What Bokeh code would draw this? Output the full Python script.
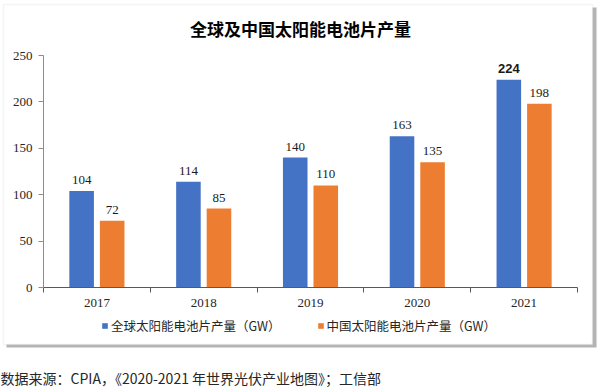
from bokeh.plotting import figure
from bokeh.models import (ColumnDataSource, FixedTicker, Legend, LegendItem,
                          Label, BoxAnnotation, Range1d)
from bokeh.transform import dodge
from bokeh.core.properties import value
from bokeh.embed import file_html
from bokeh.resources import INLINE

# ---- data ----
years = ["2017", "2018", "2019", "2020", "2021"]
global_gw = [104, 114, 140, 163, 224]
china_gw = [72, 85, 110, 135, 198]
y_ticks = [0, 50, 100, 150, 200, 250]
y_max = 250

# label styles (separate from data)
global_label_fonts = ["Liberation Serif"] * 4 + ["Liberation Sans"]
global_label_styles = ["normal"] * 4 + ["bold"]

title_text = "全球及中国太阳能电池片产量"
series_names = ["全球太阳能电池片产量（GW）", "中国太阳能电池片产量（GW）"]
source_text = "数据来源：CPIA，《2020-2021 年世界光伏产业地图》；工信部"

BLUE = "#4472C4"
ORANGE = "#ED7D31"

# ---- page geometry (pixels) ----
W, H = 600, 387
PL, PR, PT, PB = 43, 577, 55, 287      # plot area edges on the page
n = len(years)
ux = (PR - PL) / n                      # px per category
uy = (PB - PT) / y_max                  # px per GW

xpos = [i + 0.5 for i in range(n)]
src = ColumnDataSource(dict(
    x=xpos, g=global_gw, c=china_gw,
    gl=[str(v) for v in global_gw], cl=[str(v) for v in china_gw],
    gfont=global_label_fonts, gstyle=global_label_styles,
))

p = figure(width=W, height=H,
           x_range=Range1d(-PL / ux, n + (W - PR) / ux),
           y_range=Range1d(-(H - PB) / uy, y_max + PT / uy),
           output_backend="svg", toolbar_location=None,
           min_border=0, min_border_left=0, min_border_right=0,
           min_border_top=0, min_border_bottom=0)
p.background_fill_color = "white"
p.border_fill_color = "white"
p.outline_line_color = None
p.xgrid.visible = False
p.ygrid.visible = False

# outer box with drop shadow (screen px from bottom-left)
p.add_layout(BoxAnnotation(left=6, right=596, top=H - 7, bottom=H - 347,
                           left_units="screen", right_units="screen",
                           top_units="screen", bottom_units="screen",
                           fill_color="#b3b3b3", fill_alpha=1.0,
                           line_color=None, level="underlay"))
p.add_layout(BoxAnnotation(left=3, right=592, top=H - 4, bottom=H - 344,
                           left_units="screen", right_units="screen",
                           top_units="screen", bottom_units="screen",
                           fill_color="white", fill_alpha=1.0,
                           line_color="#dcdcdc", line_width=1.5,
                           level="underlay"))

bw = 0.23
off = 0.143
r1 = p.vbar(x=dodge("x", -off), top="g", width=bw, source=src,
            fill_color=BLUE, line_color=None)
r2 = p.vbar(x=dodge("x", off), top="c", width=bw, source=src,
            fill_color=ORANGE, line_color=None)

p.text(x=dodge("x", -off), y="g", text="gl", source=src,
       text_font="gfont", text_font_style="gstyle", text_font_size="13px",
       text_color="#1a1a1a", text_align="center", text_baseline="bottom",
       y_offset=-7)
p.text(x=dodge("x", off), y="c", text="cl", source=src,
       text_font=value("Liberation Serif"), text_font_size="13px",
       text_color="#1a1a1a", text_align="center", text_baseline="bottom",
       y_offset=-7)

# x axis: labels at centres, ticks at category boundaries
xa = p.xaxis[0]
xa.fixed_location = 0
xa.bounds = (0, n)
xa.ticker = FixedTicker(ticks=xpos, minor_ticks=list(range(n + 1)))
xa.major_label_overrides = {x: y for x, y in zip(xpos, years)}
xa.major_tick_out = 0
xa.major_tick_in = 0
xa.minor_tick_out = 5
xa.minor_tick_in = 0
xa.minor_tick_line_color = "#595959"
xa.axis_line_color = "#595959"
xa.major_label_standoff = 6
xa.major_label_text_font = "Liberation Serif"
xa.major_label_text_font_size = "13px"
xa.major_label_text_color = "#262626"

ya = p.yaxis[0]
ya.fixed_location = 0
ya.bounds = (0, y_max)
ya.ticker = FixedTicker(ticks=y_ticks)
ya.major_tick_out = 5
ya.major_tick_in = 0
ya.minor_tick_out = 0
ya.minor_tick_in = 0
ya.axis_line_color = "#8c8c8c"
ya.major_tick_line_color = "#8c8c8c"
ya.major_label_standoff = 6
ya.major_label_text_font = "Liberation Serif"
ya.major_label_text_font_size = "13px"
ya.major_label_text_color = "#262626"

# title
p.add_layout(Label(x=300, y=H - 28, x_units="screen", y_units="screen",
                   text=title_text, text_font="Noto Sans CJK SC",
                   text_font_size="17px", text_font_style="bold",
                   text_color="#000000", text_align="center",
                   text_baseline="middle"))

legend = Legend(items=[LegendItem(label=series_names[0], renderers=[r1]),
                       LegendItem(label=series_names[1], renderers=[r2])],
                orientation="horizontal", location=(101, H - 335),
                padding=0, margin=0, spacing=36, label_standoff=3,
                glyph_width=7, glyph_height=7, label_height=15,
                label_text_font="Noto Sans CJK SC",
                label_text_font_size="12.5px",
                label_text_color="#262626", background_fill_alpha=0,
                border_line_color=None)
p.add_layout(legend, "center")

# source note
p.add_layout(Label(x=0, y=H - 377, x_units="screen", y_units="screen",
                   text=source_text, text_font="Noto Sans CJK SC",
                   text_font_size="14px", text_color="#262626",
                   text_baseline="middle", text_align="left"))

open("out.html", "w").write(file_html(p, INLINE))
